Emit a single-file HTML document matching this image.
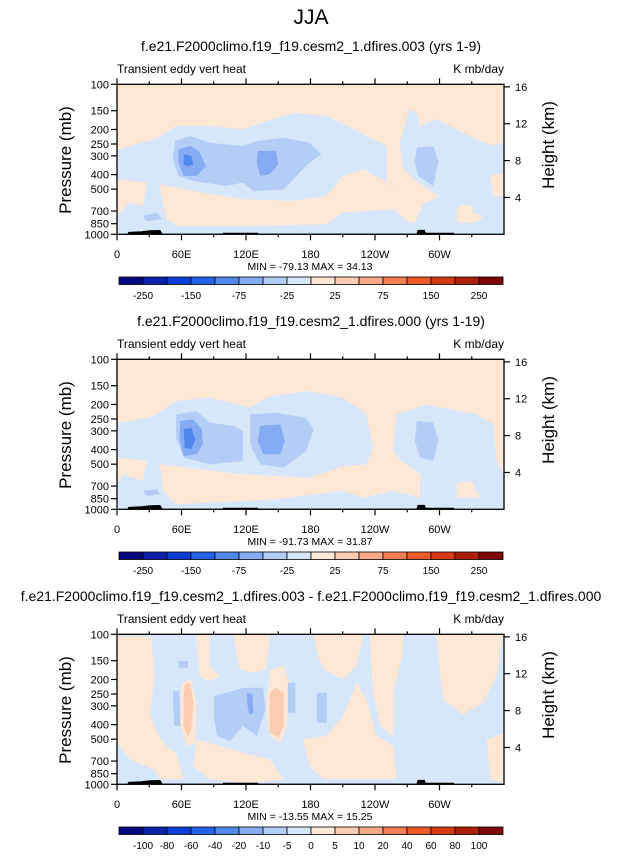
<!DOCTYPE html>
<html><head><meta charset="utf-8"><style>
body{margin:0;background:#fff;}
svg text{font-family:"Liberation Sans",sans-serif;fill:#000;}
</style></head><body>
<svg id="fig" width="622" height="851" viewBox="0 0 622 851" xmlns="http://www.w3.org/2000/svg">
<text x="311" y="24" font-size="21" text-anchor="middle">JJA</text>
</svg>
<script>
const COLORS=["#07077f","#0a22a8","#0b3fd8","#2562ea","#5088ee","#85abf3","#b3cdf7","#d6e7fb","#fee7d5","#fcccb2","#f9a988","#f47f56","#ec5a2a","#d43a10","#ad1f08","#7c0505"];
const XTICKS=[0,60,120,180,240,300];
const XLABELS=["0","60E","120E","180","120W","60W"];
const PTICKS=[100,150,200,250,300,400,500,700,850,1000];
const HTICKS=[4,8,12,16];
const TITLES=["f.e21.F2000climo.f19_f19.cesm2_1.dfires.003 (yrs 1-9)","f.e21.F2000climo.f19_f19.cesm2_1.dfires.000 (yrs 1-19)","f.e21.F2000climo.f19_f19.cesm2_1.dfires.003 - f.e21.F2000climo.f19_f19.cesm2_1.dfires.000"];
const MINMAX=["MIN = -79.13  MAX = 34.13","MIN = -91.73  MAX = 31.87","MIN = -13.55  MAX = 15.25"];
const CB_LABELS_A=["-250","-150","-75","-25","25","75","150","250"];
const CB_LABELS_B=["-100","-80","-60","-40","-20","-10","-5","0","5","10","20","40","60","80","100"];
const TOPO=[[10,1000],[11,972],[23,962],[31,948],[40,943],[42,1000],[99,1000],[99,983],[131,983],[131,1000],[279,1000],[280,942],[286,942],[287,983],[313,983],[313,1000]];
// contour regions: [level, polygon of [lon, pressure]]
const P1=[
 [8,[[0,100],[360,100],[360,245],[350,255],[334,233],[297,171],[282,190],[279,155],[272,147],[263,245],[266,360],[276,430],[300,560],[285,620],[277,836],[272,836],[257,502],[251,452],[251,257],[238,233],[220,199],[195,163],[164,155],[139,176],[117,199],[86,190],[55,190],[37,231],[12,257],[0,278]]],
 [8,[[40,465],[71,514],[117,584],[164,598],[195,556],[210,408],[229,369],[251,452],[262,560],[272,836],[257,681],[210,716],[195,858],[117,880],[55,880],[46,790],[40,500]]],
 [8,[[0,430],[28,452],[24,648],[12,616],[0,750]]],
 [8,[[316,681],[322,632],[331,648],[331,716],[341,754],[334,836],[316,836]]],
 [8,[[347,408],[360,389],[360,556],[350,556]]],
 [6,[[54,239],[68,221],[86,245],[117,258],[130,239],[155,227],[179,245],[190,293],[179,333],[167,408],[155,502],[127,515],[117,452],[102,476],[71,441],[57,408],[52,316]]],
 [5,[[57,271],[68,258],[76,278],[83,351],[74,408],[62,408],[57,333]]],
 [4,[[62,293],[69,301],[71,342],[66,351],[62,342]]],
 [5,[[131,278],[148,278],[150,342],[142,398],[133,408],[130,333]]],
 [6,[[279,264],[294,258],[299,325],[294,476],[280,408],[277,325]]],
 [6,[[24,754],[37,716],[42,794],[28,816]]]
];
const P2=[
 [8,[[0,100],[360,100],[360,584],[353,476],[350,271],[334,233],[288,200],[260,233],[257,408],[266,488],[232,502],[238,389],[232,233],[210,180],[179,163],[142,176],[124,210],[86,180],[55,190],[34,239],[12,258],[0,264]]],
 [8,[[40,502],[117,584],[179,616],[210,515],[232,502],[257,430],[282,584],[282,836],[257,754],[229,836],[210,754],[148,858],[55,926],[43,754]]],
 [8,[[0,452],[28,476],[24,648],[6,584],[0,681]]],
 [8,[[316,681],[322,648],[331,664],[334,754],[338,836],[316,836]]],
 [6,[[55,233],[74,221],[86,264],[108,278],[117,301],[117,476],[86,502],[62,452],[55,333]]],
 [6,[[124,233],[148,227],[176,245],[183,293],[176,408],[155,528],[133,502],[124,369]]],
 [5,[[59,258],[71,251],[79,293],[80,369],[74,430],[62,441],[58,333]]],
 [4,[[62,293],[69,286],[73,342],[69,398],[63,389]]],
 [5,[[133,278],[152,271],[156,351],[152,430],[136,430],[131,351]]],
 [6,[[279,258],[294,264],[299,351],[294,476],[282,452],[277,351]]],
 [6,[[24,754],[37,735],[40,794],[28,816]]]
];
const P3=[
 [8,[[0,103],[32,103],[35,190],[31,333],[37,452],[46,556],[55,616],[62,926],[40,926],[34,794],[12,681],[0,528]]],
 [8,[[73,100],[86,100],[86,163],[96,190],[86,205],[77,190]]],
 [8,[[108,100],[142,100],[139,171],[127,180],[114,171]]],
 [8,[[183,100],[229,100],[223,163],[210,200],[192,171],[186,132]]],
 [8,[[235,100],[266,100],[266,132],[257,245],[257,476],[245,408],[238,245]]],
 [8,[[173,502],[195,476],[210,351],[223,210],[232,271],[241,476],[257,556],[260,926],[192,926],[179,754]]],
 [8,[[297,100],[359,100],[353,190],[341,286],[322,342],[303,271],[300,163]]],
 [8,[[344,502],[360,452],[360,976],[347,926]]],
 [8,[[74,502],[96,556],[117,616],[142,681],[155,926],[124,976],[86,926],[71,754]]],
 [8,[[142,171],[155,163],[161,210],[158,408],[152,528],[142,476],[139,333]]],
 [9,[[142,245],[148,227],[155,245],[155,408],[150,488],[142,452]]],
 [8,[[60,210],[69,200],[74,286],[73,528],[65,556],[59,408]]],
 [9,[[63,216],[68,210],[71,286],[69,441],[65,476],[62,408],[62,271]]],
 [6,[[90,258],[102,245],[117,227],[136,227],[138,316],[130,476],[117,408],[105,515],[93,476],[90,351]]],
 [5,[[121,245],[126,251],[127,333],[123,342],[121,286]]],
 [6,[[52,239],[58,239],[59,408],[53,408]]],
 [6,[[159,210],[166,210],[166,333],[159,333]]],
 [6,[[186,245],[195,245],[195,389],[186,389]]],
 [6,[[57,151],[66,151],[66,167],[57,167]]]
];
const PANELS=[P1,P2,P3];
const BGLEVEL=[7,7,7];
const svg=document.getElementById('fig');
const NS="http://www.w3.org/2000/svg";
const X0=117,X1=504,YT=84.3,YB=234.3;
function xs(lon){return X0+(X1-X0)*lon/360;}
function ys(p,off){return off+YT+(YB-YT)*(Math.log10(p)-2);}
function el(tag,attrs,parent){const e=document.createElementNS(NS,tag);for(const k in attrs)e.setAttribute(k,attrs[k]);(parent||svg).appendChild(e);return e;}
function txt(x,y,s,size,anchor,parent){const t=el('text',{x:x,y:y,'font-size':size,'text-anchor':anchor||'start'},parent);t.textContent=s;return t;}
PANELS.forEach((panel,i)=>{
 const off=i*275;
 const g=el('g',{});
 
 
 const t=txt(311,off+51,TITLES[i],14,'middle',g);
 
 
 const l=txt(117,off+73,'Transient eddy vert heat',12,'start',g);
 
 
 const r=txt(504,off+73,'K mb/day',12,'end',g);
 
 
 const clipId='clip'+i;
 const cp=el('clipPath',{id:clipId},g);
 el('rect',{x:X0,y:off+YT,width:X1-X0,height:YB-YT},cp);
 const plot=el('g',{'clip-path':'url(#'+clipId+')'},g);
 
 
 el('rect',{x:X0,y:off+YT,width:X1-X0,height:YB-YT,fill:COLORS[BGLEVEL[i]]},plot);
 panel.forEach(([lev,poly])=>{
  const d=poly.map((q,j)=>(j?'L':'M')+xs(q[0]).toFixed(1)+','+ys(q[1],off).toFixed(1)).join('')+'Z';
  const pth=el('path',{d:d,fill:COLORS[lev],stroke:'none'},plot);
  
  
 });
 const td='M'+TOPO.map(q=>xs(q[0]).toFixed(1)+','+ys(q[1],off).toFixed(1)).join('L')+'Z';
 const tp=el('path',{d:td,fill:'#000',stroke:'#000','stroke-width':1},plot);
 
 
 const fr=el('rect',{x:X0,y:off+YT,width:X1-X0,height:YB-YT,fill:'none',stroke:'#000','stroke-width':1.3},g);
 
 
 for(let lon=0;lon<360;lon+=30){
  const major=lon%60==0, len=major?6:3;
  el('line',{x1:xs(lon),x2:xs(lon),y1:off+YB,y2:off+YB+len,stroke:'#000','stroke-width':1.2},g);
  el('line',{x1:xs(lon),x2:xs(lon),y1:off+YT,y2:off+YT-len,stroke:'#000','stroke-width':1.2},g);
 }
 XTICKS.forEach((lon,k)=>{const a=txt(xs(lon),off+258,XLABELS[k],11,'middle',g);
  
  });
 PTICKS.forEach(p=>{const y=ys(p,off);el('line',{x1:X0-6,x2:X0,y1:y,y2:y,stroke:'#000','stroke-width':1.2},g);
  const a=txt(X0-8,y+4,String(p),11,'end',g);
  
  });
 HTICKS.forEach(z=>{const p=1000*Math.exp(-z/7.07);const y=ys(p,off);el('line',{x1:X1,x2:X1+6,y1:y,y2:y,stroke:'#000','stroke-width':1.2},g);
  const a=txt(X1+11,y+4,String(z),11,'start',g);
  
  });
 const ya=txt(0,0,'Pressure (mb)',17,'middle',g);ya.setAttribute('transform','translate(71,'+(off+160)+') rotate(-90)');
 
 
 const ha=txt(0,0,'Height (km)',17,'middle',g);ha.setAttribute('transform','translate(554,'+(off+145)+') rotate(-90)');
 
 
 const mm=txt(310,off+270,MINMAX[i],10.5,'middle',g);
 
 
 const cb=el('g',{},g);
 
 
 const bw=24, bx=119, by=off+277;
 COLORS.forEach((c,k)=>{const b=el('rect',{x:bx+k*bw,y:by,width:bw,height:7.5,fill:c,stroke:'#000','stroke-width':0.8},cb);
  
  });
 if(i<2){CB_LABELS_A.forEach((s,k)=>{const a=txt(bx+(2*k+1)*bw,by+22,s,10,'middle',cb);
  
  });}
 else{CB_LABELS_B.forEach((s,k)=>{const a=txt(bx+(k+1)*bw,by+22,s,10,'middle',cb);
  
  });}
});
</script>
</body></html>
